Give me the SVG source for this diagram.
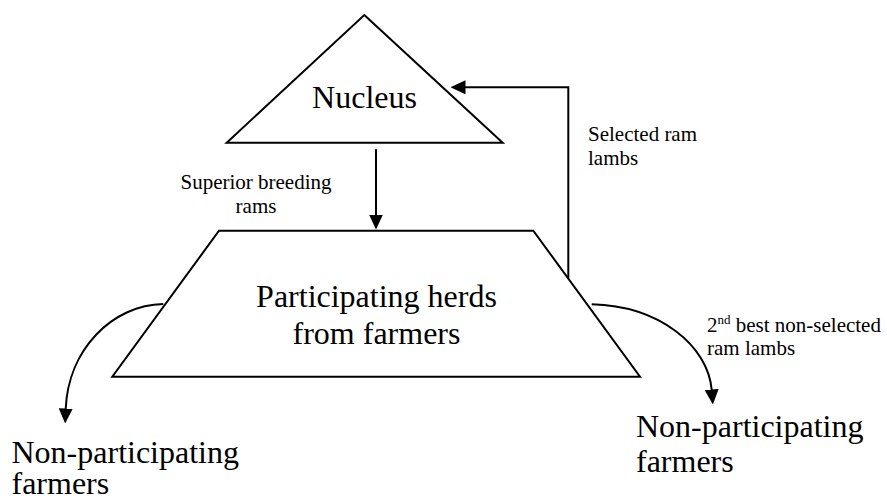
<svg xmlns="http://www.w3.org/2000/svg" width="887" height="499" viewBox="0 0 887 499">
  <style>
    .shape { fill: #ffffff; stroke: #000000; stroke-width: 2; stroke-linejoin: miter; }
    .link { fill: none; stroke: #000000; stroke-width: 2; }
    text { font-family: 'Liberation Serif', 'DejaVu Serif', 'Times New Roman', serif; fill: #000000; }
    .big { font-size: 32px; }
    .small { font-size: 21px; }
  </style>
  <defs>
    <marker id="arrow" viewBox="0 0 15 14" markerWidth="15" markerHeight="14" refX="0.5" refY="7" orient="auto" markerUnits="userSpaceOnUse">
      <path d="M0,0 L15,7 L0,14 Z" fill="#000000"/>
    </marker>
  </defs>

  <rect width="887" height="499" fill="#ffffff"/>

  <!-- Nucleus (triangle) -->
  <g id="nucleus">
    <polygon class="shape" points="364.3,15 502.7,142.7 226.7,142.7"/>
    <text class="big" x="364.5" y="108" text-anchor="middle">Nucleus</text>
  </g>

  <!-- Participating herds (trapezoid) -->
  <g id="participating-herds">
    <polygon class="shape" points="219,230.7 533.3,230.7 640,376.7 112.3,376.7"/>
    <text class="big" text-anchor="middle"><tspan x="376.5" y="306.5">Participating herds</tspan><tspan x="376.5" y="344">from farmers</tspan></text>
  </g>

  <!-- Non-participating farmers, left -->
  <g id="non-participating-left">
    <text class="big"><tspan x="11.5" y="463">Non-participating</tspan><tspan x="11.5" y="494">farmers</tspan></text>
  </g>

  <!-- Non-participating farmers, right -->
  <g id="non-participating-right">
    <text class="big"><tspan x="636" y="437">Non-participating</tspan><tspan x="636" y="472">farmers</tspan></text>
  </g>

  <!-- Connectors -->
  <g id="connectors">
    <!-- nucleus to herds -->
    <path class="link" d="M376,149.3 L376,215" marker-end="url(#arrow)"/>
    <!-- herds back to nucleus -->
    <path class="link" d="M568.3,278.5 L568.3,87.3 L465,87.3" marker-end="url(#arrow)"/>
    <!-- herds to non-participating, left -->
    <path class="link" d="M163.3,304 C112,305 68,350 65.7,409" marker-end="url(#arrow)"/>
    <!-- herds to non-participating, right -->
    <path class="link" d="M591.7,304.3 C660,306 708,346 711.7,390" marker-end="url(#arrow)"/>
  </g>

  <!-- Connector labels -->
  <g id="labels">
    <text class="small" text-anchor="middle"><tspan x="256" y="189">Superior breeding</tspan><tspan x="256" y="212.7">rams</tspan></text>
    <text class="small"><tspan x="588" y="141">Selected ram</tspan><tspan x="588" y="165">lambs</tspan></text>
    <text class="small" x="707" y="332"><tspan>2</tspan><tspan font-size="13px" dy="-8">nd</tspan><tspan dy="8"> best non-selected</tspan></text>
    <text class="small" x="707" y="355">ram lambs</text>
  </g>
</svg>
